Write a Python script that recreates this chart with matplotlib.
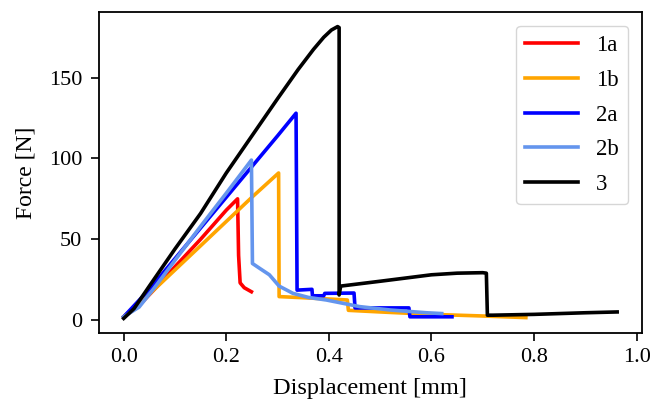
import matplotlib
matplotlib.use("Agg")
import matplotlib.pyplot as plt

plt.rcParams['font.family'] = ['Liberation Serif', 'DejaVu Serif']
plt.rcParams['font.size'] = 16.5

# ---- data ----
x_1a = [0, 0.03, 0.06, 0.10, 0.15, 0.20, 0.222, 0.224, 0.227, 0.235, 0.249]
y_1a = [2, 9, 19, 33, 50, 68, 75, 40, 23, 20, 17.5]

x_1b = [0, 0.05, 0.10, 0.15, 0.20, 0.25, 0.302, 0.303, 0.35, 0.40, 0.436, 0.438,
        0.50, 0.60, 0.70, 0.784]
y_1b = [2, 16, 31, 46, 61, 76, 91, 14.5, 13.8, 13, 12.4, 6.0, 5, 3.5, 2.5, 1.5]

x_2a = [0, 0.05, 0.10, 0.15, 0.20, 0.25, 0.30, 0.336, 0.338, 0.367, 0.368, 0.39,
        0.392, 0.449, 0.451, 0.50, 0.556, 0.558, 0.64]
y_2a = [2, 19, 38, 57, 76, 95, 114, 128, 18.5, 19, 15, 15, 16.5, 16.7, 7.5,
        7.5, 7.5, 2, 2]

x_2b = [0, 0.03, 0.06, 0.10, 0.15, 0.20, 0.249, 0.251, 0.265, 0.284, 0.303, 0.33,
        0.36, 0.395, 0.46, 0.52, 0.59, 0.62]
y_2b = [2, 8, 20, 37, 58, 78.5, 99, 35, 32, 28, 21, 16.5, 14, 12.4, 8.3, 6.2,
        4.5, 4]

x_3 = [0, 0.02, 0.05, 0.10, 0.15, 0.20, 0.25, 0.30, 0.34, 0.37, 0.39, 0.405,
       0.417, 0.420, 0.420, 0.423, 0.50, 0.60, 0.65, 0.70, 0.707, 0.709, 0.72,
       0.80, 0.90, 0.962]
y_3 = [1, 7, 21, 44, 66, 91, 114, 137, 155, 167.5, 175, 179.5, 181.6, 181,
       15.5, 21, 24, 28, 29, 29.3, 29, 3, 3, 3.5, 4.5, 5]

labels = ['1a', '1b', '2a', '2b', '3']
colors = ['red', 'orange', 'blue', 'cornflowerblue', 'black']

fig = plt.figure(figsize=(6.54, 4.03), dpi=100)
ax = fig.add_axes([0.1514, 0.1737, 0.830, 0.7965])

series = [(x_1a, y_1a), (x_1b, y_1b), (x_2a, y_2a), (x_2b, y_2b), (x_3, y_3)]
for (xs, ys), lab, col in zip(series, labels, colors):
    ax.plot(xs, ys, color=col, lw=2.6, label=lab)

ax.set_xlabel('Displacement [mm]', fontsize=17.5, labelpad=8)
ax.set_ylabel('Force [N]', fontsize=17, labelpad=9)
ax.set_xticks([0.0, 0.2, 0.4, 0.6, 0.8, 1.0])
ax.set_yticks([0, 50, 100, 150])
ax.tick_params(labelsize=16, length=6, width=1.2)
ax.tick_params(axis='x', pad=5)
ax.tick_params(axis='y', pad=6)
for sp in ax.spines.values():
    sp.set_linewidth(1.3)

ax.legend(loc='upper right', fontsize=16.5, handlelength=2.3,
          borderaxespad=0.6, labelspacing=0.6)

fig.savefig('out.png', dpi=100)
